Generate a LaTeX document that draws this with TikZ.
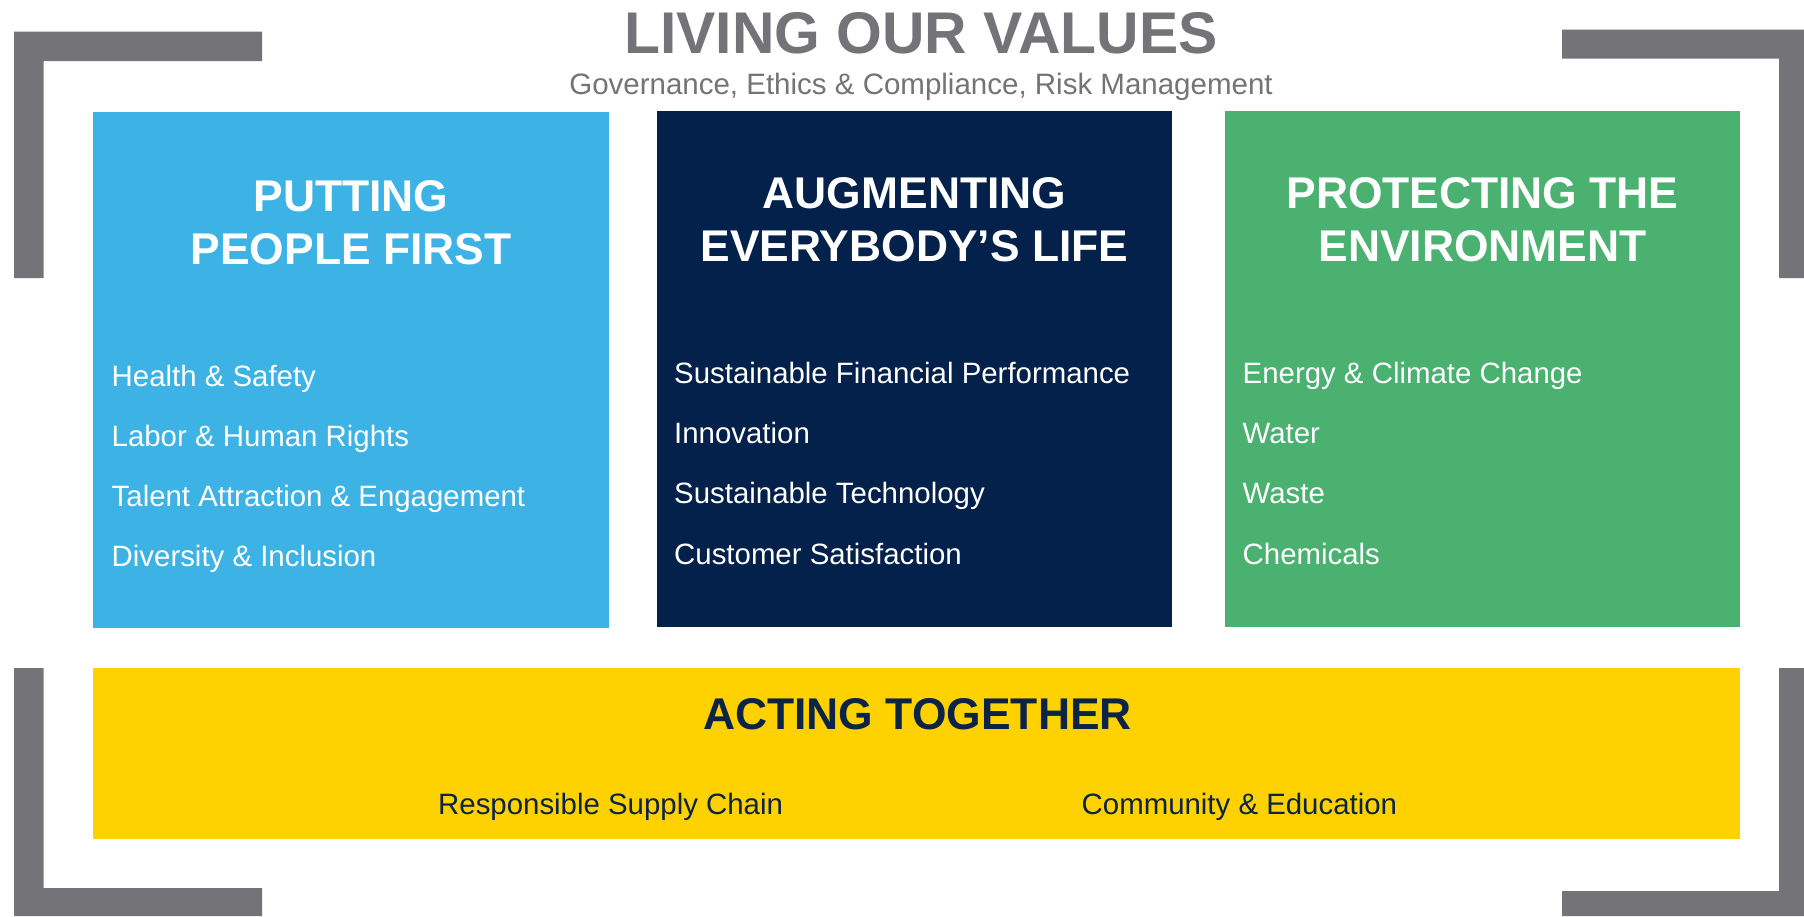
\documentclass[tikz,border=0pt]{standalone}
\usepackage{fontspec}
\setmainfont{Liberation Sans}
\definecolor{brgray}{HTML}{747378}
\definecolor{pblue}{HTML}{3DB3E5}
\definecolor{pnavy}{HTML}{03214A}
\definecolor{pgreen}{HTML}{4AB170}
\definecolor{pyellow}{HTML}{FED100}
\definecolor{tnavy}{HTML}{0B2345}
\tikzset{
  panel/.style={draw=none, inner sep=0pt, outer sep=0pt, anchor=north west},
  bracket/.style={fill=brgray, draw=none},
  head/.style={inner sep=0pt, anchor=base, text=white, font=\fontsize{44.4}{52}\selectfont\bfseries},
  item/.style={inner sep=0pt, anchor=base west, text=white, font=\fontsize{29.4}{35}\selectfont},
}
\begin{document}
\begin{tikzpicture}[x=1pt,y=-1pt]
\useasboundingbox (0,0) rectangle (1804,916);
\fill[white] (0,0) rectangle (1804,916);
% brackets
\fill[bracket] (14,31.5) -- (262,31.5) -- (262,61) -- (43.5,61) -- (43.5,278) -- (14,278) -- cycle;
\fill[bracket] (1562,29.5) -- (1804,29.5) -- (1804,278) -- (1779,278) -- (1779,58.5) -- (1562,58.5) -- cycle;
\fill[bracket] (14,668) -- (43.5,668) -- (43.5,888) -- (262,888) -- (262,916) -- (14,916) -- cycle;
\fill[bracket] (1779,668) -- (1804,668) -- (1804,916) -- (1562,916) -- (1562,891) -- (1779,891) -- cycle;
% title
\node[inner sep=0pt, anchor=base, text=brgray, font=\fontsize{58.8}{60}\selectfont\bfseries] (title) at (921,53) {LIVING OUR VALUES};
\node[inner sep=0pt, anchor=base, text=brgray, font=\fontsize{29.5}{35}\selectfont] (subtitle) at (921,94.5) {Governance, Ethics \& Compliance, Risk Management};
% panels
\node[panel, fill=pblue, minimum width=516pt, minimum height=516pt] (people) at (93,112) {};
\node[panel, fill=pnavy, minimum width=515pt, minimum height=516pt] (augment) at (657,111) {};
\node[panel, fill=pgreen, minimum width=515pt, minimum height=516pt] (environment) at (1225,111) {};
\node[panel, fill=pyellow, minimum width=1647pt, minimum height=171pt] (acting) at (93,668) {};
% headings
\node[head] (h1a) at (351,211) {PUTTING};
\node[head] (h1b) at (351,264) {PEOPLE FIRST};
\node[head] (h2a) at (914.5,208) {AUGMENTING};
\node[head] (h2b) at (914.5,261) {EVERYBODY’S LIFE};
\node[head] (h3a) at (1482.5,208) {PROTECTING THE};
\node[head] (h3b) at (1482.5,261) {ENVIRONMENT};
% items
\node[item] (p1) at (111.5,386) {Health \& Safety};
\node[item] (p2) at (111.5,446) {Labor \& Human Rights};
\node[item] (p3) at (111.5,506) {Talent Attraction \& Engagement};
\node[item] (p4) at (111.5,566) {Diversity \& Inclusion};
\node[item] (a1) at (674,383) {Sustainable Financial Performance};
\node[item] (a2) at (674,443) {Innovation};
\node[item] (a3) at (674,503) {Sustainable Technology};
\node[item] (a4) at (674,564) {Customer Satisfaction};
\node[item] (e1) at (1242.5,383) {Energy \& Climate Change};
\node[item] (e2) at (1242.5,443) {Water};
\node[item] (e3) at (1242.5,503) {Waste};
\node[item] (e4) at (1242.5,564) {Chemicals};
% acting together
\node[head, text=tnavy] (acth) at (917.5,729) {ACTING TOGETHER};
\node[item, text=tnavy] (t1) at (438,814.5) {Responsible Supply Chain};
\node[item, text=tnavy] (t2) at (1081.5,814.5) {Community \& Education};
\end{tikzpicture}
\end{document}
